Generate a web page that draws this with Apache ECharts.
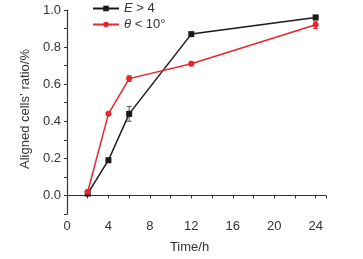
<!DOCTYPE html>
<html>
<head>
<meta charset="utf-8">
<script src="https://cdn.jsdelivr.net/npm/echarts@6/dist/echarts.min.js"></script>
<style>
    html, body { margin: 0; padding: 0; background: #fff; }
    #chart { width: 363px; height: 259px; }
</style>
</head>
<body>
<div id="chart"></div>
<script>
    // time points (h)
    const times = [2, 4, 6, 12, 24]
    // E > 4
    const eRatio = [0.01, 0.19, 0.44, 0.87, 0.96]
    const eErr = [0.008, 0.01, 0.04, 0.008, 0.008]
    // theta < 10°
    const thetaRatio = [0.02, 0.44, 0.63, 0.71, 0.92]
    const thetaErr = [0.008, 0.008, 0.015, 0.01, 0.02]
    const xLabels = [0, 4, 8, 12, 16, 20, 24]
    const yLabels = [0.0, 0.2, 0.4, 0.6, 0.8, 1.0]

    const toPairs = (ys) => times.map((t, i) => [t, ys[i]])
    const errPairs = (ys, es) => times.map((t, i) => [t, ys[i] - es[i], ys[i] + es[i]])

    function errorBar (color) {
        return function (params, api) {
            const x = api.value(0)
            const lo = api.coord([x, api.value(1)])
            const hi = api.coord([x, api.value(2)])
            const w = 2.5
            const style = { stroke: color, lineWidth: 1, fill: null }
            return {
                type: 'group',
                children: [
                    { type: 'line', shape: { x1: lo[0], y1: lo[1], x2: hi[0], y2: hi[1] }, style: style },
                    { type: 'line', shape: { x1: lo[0] - w, y1: lo[1], x2: lo[0] + w, y2: lo[1] }, style: style },
                    { type: 'line', shape: { x1: hi[0] - w, y1: hi[1], x2: hi[0] + w, y2: hi[1] }, style: style }
                ]
            }
        }
    }

    const font = 'Liberation Sans, Arial, sans-serif'
    const myChart = echarts.init(document.getElementById('chart'))
    const option = {
        animation: false,
        textStyle: { fontFamily: font },
        grid: { left: 67, right: 37, top: 10, bottom: 42 },
        legend: {
            orient: 'vertical',
            left: 87,
            top: -3,
            itemWidth: 26,
            itemHeight: 7,
            itemGap: 3,
            textStyle: {
                fontSize: 13,
                color: '#333',
                rich: {
                    i: { fontStyle: 'italic', fontSize: 13, color: '#333' }
                }
            },
            formatter: function (name) {
                return name === 'E' ? '{i|E} > 4' : '{i|θ} < 10°'
            },
            data: ['E', 'theta']
        },
        xAxis: {
            type: 'value',
            min: 0,
            max: 25,
            interval: 2,
            name: 'Time/h',
            nameLocation: 'middle',
            nameGap: 27,
            nameTextStyle: { fontSize: 13, color: '#333', padding: [0, 14, 0, 0] },
            splitLine: { show: false },
            axisLine: { lineStyle: { color: '#333', width: 1.2 } },
            axisTick: { length: 3, lineStyle: { color: '#333' } },
            axisLabel: {
                fontSize: 13,
                color: '#333',
                margin: 6,
                formatter: function (v) {
                    return xLabels.indexOf(v) >= 0 ? String(v) : ''
                }
            }
        },
        yAxis: {
            type: 'value',
            min: -0.1,
            max: 1.0,
            interval: 0.1,
            name: 'Aligned cells\u2019 ratio/%',
            nameLocation: 'middle',
            nameGap: 34,
            nameTextStyle: { fontSize: 13, color: '#333', padding: [0, 0, 0, 6] },
            splitLine: { show: false },
            axisLine: { lineStyle: { color: '#333', width: 1.2 } },
            axisTick: { length: 3, lineStyle: { color: '#333' } },
            axisLabel: {
                fontSize: 13,
                color: '#333',
                margin: 6,
                formatter: function (v) {
                    const r = Math.round(v * 10) / 10
                    return yLabels.some(l => Math.abs(l - r) < 1e-6) && Math.abs(v - r) < 1e-6 ? r.toFixed(1) : ''
                }
            }
        },
        series: [
            {
                name: 'E',
                type: 'line',
                data: toPairs(eRatio),
                symbol: 'rect',
                symbolSize: 6,
                z: 3,
                itemStyle: { color: '#1a1a1a' },
                lineStyle: { color: '#1a1a1a', width: 1.5 }
            },
            {
                name: 'theta',
                type: 'line',
                data: toPairs(thetaRatio),
                symbol: 'circle',
                symbolSize: 6,
                z: 4,
                itemStyle: { color: '#e8262b' },
                lineStyle: { color: '#e8262b', width: 1.5 }
            },
            {
                type: 'custom',
                renderItem: errorBar('#555'),
                data: errPairs(eRatio, eErr),
                z: 2,
                silent: true
            },
            {
                type: 'custom',
                renderItem: errorBar('#e8262b'),
                data: errPairs(thetaRatio, thetaErr),
                z: 2,
                silent: true
            }
        ]
    }
    myChart.setOption(option)
</script>
</body>
</html>
